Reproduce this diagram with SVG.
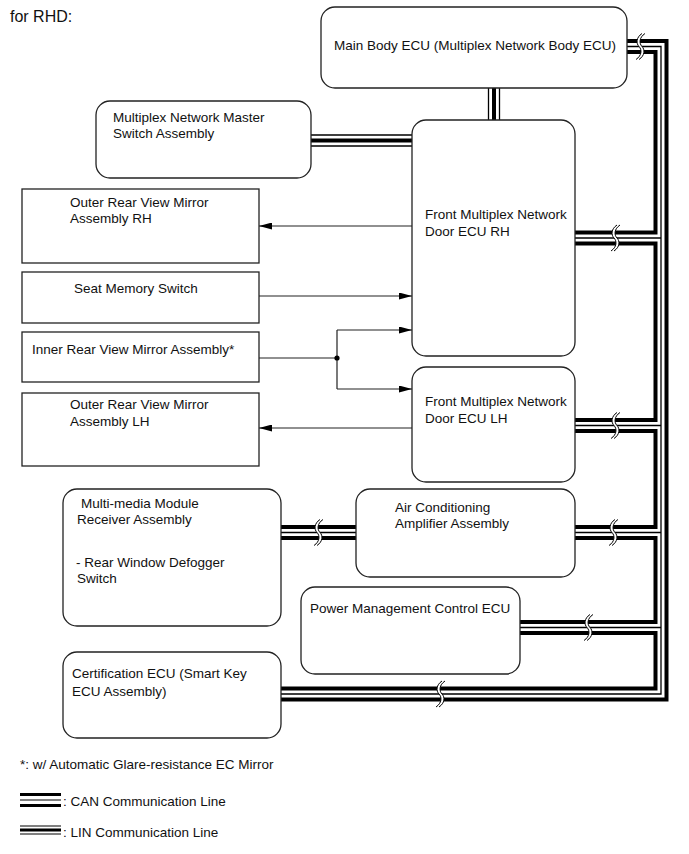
<svg xmlns="http://www.w3.org/2000/svg" width="689" height="854" viewBox="0 0 689 854">
<style>
text{font-family:"Liberation Sans",Arial,sans-serif;font-size:13.5px;fill:#111}
.box{fill:#fff;stroke:#222;stroke-width:1.3}
.thk{fill:none;stroke:#000;stroke-width:4}
.thn{fill:none;stroke:#000;stroke-width:1.3}
.ln{fill:none;stroke:#222;stroke-width:1.2}
</style>
<defs>
<marker id="ah" markerWidth="13" markerHeight="7" refX="13" refY="3.5" orient="auto" markerUnits="userSpaceOnUse">
<path d="M0,0 L13,3.5 L0,7 Z" fill="#000"/>
</marker>
<g id="brk">
<path d="M2,-13 C-4,-9 -4,-3 -1,0 C2,3 2,9 -4,13 L-1,13 C5,9 5,3 2,0 C-1,-3 -1,-9 5,-13 Z" fill="#fff"/>
<path d="M2,-13 C-4,-9 -4,-3 -1,0 C2,3 2,9 -4,13" fill="none" stroke="#000" stroke-width="1"/>
<path d="M5,-13 C-1,-9 -1,-3 2,0 C5,3 5,9 -1,13" fill="none" stroke="#000" stroke-width="1"/>
</g>
</defs>
<rect width="689" height="854" fill="#fff"/>
<text x="10" y="22" style="font-size:16px">for RHD:</text>

<g id="connectors">
<!-- CAN bus outer thick -->
<path class="thk" d="M627,41 H666.5 V699.5 H281"/>
<!-- CAN thin -->
<path class="thn" d="M627,46.5 H661 V694 H281"/>
<path class="thn" d="M575,238 H661"/>
<path class="thn" d="M575,425.5 H661"/>
<path class="thn" d="M575,532.5 H661"/>
<path class="thn" d="M520,627.5 H661"/>
<!-- CAN inner thick segments -->
<path class="thk" d="M627,52 H655.5 V232.5 H575"/>
<path class="thk" d="M575,243.5 H655.5 V420 H575"/>
<path class="thk" d="M575,431 H655.5 V527 H575"/>
<path class="thk" d="M575,538 H655.5 V622 H520"/>
<path class="thk" d="M520,633 H655.5 V688.5 H281"/>
<!-- Multimedia - AC CAN -->
<path class="thk" d="M281,527 H356 M281,538 H356"/>
<path class="thn" d="M281,532.5 H356"/>
<!-- LIN: Main Body - Front RH -->
<path class="thn" d="M488.5,88 V120 M499.5,88 V120"/>
<path class="thk" d="M494,88 V120"/>
<!-- LIN: Master Switch - Front RH -->
<path class="thn" d="M311,135 H412 M311,146 H412"/>
<path class="thk" d="M311,140.5 H412"/>
<!-- breaks -->
<use href="#brk" x="640" y="46.5"/>
<use href="#brk" x="615" y="238"/>
<use href="#brk" x="615" y="425.5"/>
<use href="#brk" x="613" y="532.5"/>
<use href="#brk" x="318" y="532.5"/>
<use href="#brk" x="588" y="627.5"/>
<use href="#brk" x="440" y="694"/>
<!-- signal arrows -->
<path class="ln" d="M412,226 H259" marker-end="url(#ah)"/>
<path class="ln" d="M259,296 H412" marker-end="url(#ah)"/>
<path class="ln" d="M259,358 H337 M337,330 V389"/>
<path class="ln" d="M337,330 H412" marker-end="url(#ah)"/>
<path class="ln" d="M337,389 H412" marker-end="url(#ah)"/>
<circle cx="337" cy="358" r="2.6" fill="#000"/>
<path class="ln" d="M412,428 H259" marker-end="url(#ah)"/>
</g>

<g id="main-body-ecu">
<rect class="box" x="321" y="7" width="306" height="81" rx="14"/>
<text x="334" y="50">Main Body ECU (Multiplex Network Body ECU)</text>
</g>
<g id="master-switch">
<rect class="box" x="96" y="101" width="215" height="77" rx="14"/>
<text x="113" y="122">Multiplex Network Master</text>
<text x="113" y="138">Switch Assembly</text>
</g>
<g id="front-door-ecu-rh">
<rect class="box" x="412" y="120" width="163" height="236" rx="14"/>
<text x="425" y="219">Front Multiplex Network</text>
<text x="425" y="236">Door ECU RH</text>
</g>
<g id="outer-mirror-rh">
<rect class="box" x="22" y="189" width="237" height="74"/>
<text x="70" y="207">Outer Rear View Mirror</text>
<text x="70" y="223">Assembly RH</text>
</g>
<g id="seat-memory-switch">
<rect class="box" x="22" y="272" width="237" height="51"/>
<text x="74" y="293">Seat Memory Switch</text>
</g>
<g id="inner-mirror">
<rect class="box" x="22" y="332" width="237" height="50"/>
<text x="32" y="354">Inner Rear View Mirror Assembly*</text>
</g>
<g id="outer-mirror-lh">
<rect class="box" x="22" y="393" width="237" height="73"/>
<text x="70" y="409">Outer Rear View Mirror</text>
<text x="70" y="426">Assembly LH</text>
</g>
<g id="front-door-ecu-lh">
<rect class="box" x="412" y="367" width="163" height="115" rx="14"/>
<text x="425" y="406">Front Multiplex Network</text>
<text x="425" y="423">Door ECU LH</text>
</g>
<g id="multimedia-module">
<rect class="box" x="63" y="489" width="218" height="137" rx="14"/>
<text x="81" y="508">Multi-media Module</text>
<text x="77" y="524">Receiver Assembly</text>
<text x="76" y="567">- Rear Window Defogger</text>
<text x="77" y="583">Switch</text>
</g>
<g id="air-conditioning-amplifier">
<rect class="box" x="356" y="489" width="219" height="88" rx="14"/>
<text x="395" y="512">Air Conditioning</text>
<text x="395" y="528">Amplifier Assembly</text>
</g>
<g id="power-management-ecu">
<rect class="box" x="301" y="587" width="219" height="87" rx="14"/>
<text x="310" y="613">Power Management Control ECU</text>
</g>
<g id="certification-ecu">
<rect class="box" x="63" y="652" width="218" height="86" rx="14"/>
<text x="72" y="678">Certification ECU (Smart Key</text>
<text x="72" y="696">ECU Assembly)</text>
</g>

<g id="legend">
<text x="20" y="769">*: w/ Automatic Glare-resistance EC Mirror</text>
<path d="M20,794.5 H61 M20,805.5 H61" stroke="#000" stroke-width="3" fill="none"/>
<path d="M20,800 H61" stroke="#000" stroke-width="1.2" fill="none"/>
<text x="63" y="806">: CAN Communication Line</text>
<path d="M20,826 H61 M20,834 H61" stroke="#000" stroke-width="1.2" fill="none"/>
<path d="M20,830 H61" stroke="#000" stroke-width="3" fill="none"/>
<text x="63" y="837">: LIN Communication Line</text>
</g>
</svg>
